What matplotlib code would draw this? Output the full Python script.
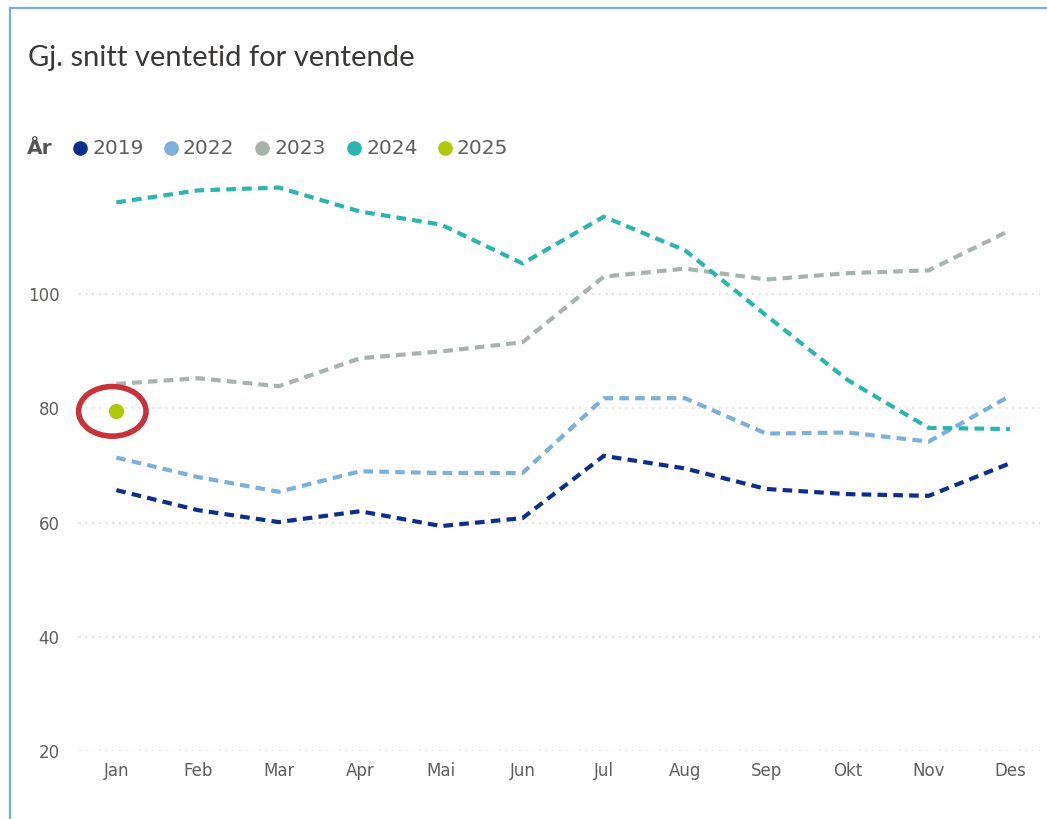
import matplotlib
matplotlib.use("Agg")
import matplotlib.pyplot as plt
from matplotlib.patches import Ellipse
from matplotlib.lines import Line2D

months = ["Jan", "Feb", "Mar", "Apr", "Mai", "Jun", "Jul", "Aug", "Sep", "Okt", "Nov", "Des"]
years = ["2019", "2022", "2023", "2024", "2025"]
colors = ["#0d2f8c", "#7bb0dc", "#a9b3ae", "#29b6b0", "#afc80a"]

v2019 = [65.7, 62.2, 60.1, 62.0, 59.4, 60.8, 71.7, 69.5, 65.9, 65.0, 64.7, 70.4]
v2022 = [71.4, 68.0, 65.4, 69.0, 68.7, 68.7, 81.8, 81.8, 75.6, 75.8, 74.2, 82.2]
v2023 = [84.3, 85.3, 83.9, 88.8, 90.0, 91.6, 103.1, 104.5, 102.6, 103.7, 104.2, 111.2]
v2024 = [116.1, 118.2, 118.7, 114.5, 112.2, 105.4, 113.6, 107.7, 96.3, 85.0, 76.6, 76.4]
v2025 = [79.5]

series = [v2019, v2022, v2023, v2024, v2025]
yticks = [20, 40, 60, 80, 100]

W, H = 1047, 819
fig = plt.figure(figsize=(W / 100, H / 100), dpi=100)

# axes placed in pixel terms
left, right, bottom, top = 79, 1040, 751, 183
ax = fig.add_axes([left / W, 1 - bottom / H, (right - left) / W, (bottom - top) / H])

x = list(range(len(months)))
for vals, c in zip(series, colors):
    xs = x[:len(vals)]
    if len(vals) > 1:
        ax.plot(xs, vals, color=c, lw=3.0, linestyle=(0, (2.3, 1.5)),
                dash_capstyle="butt", clip_on=False, zorder=3)
    else:
        ax.plot(xs, vals, "o", color=c, ms=10, clip_on=False, zorder=4)

# red highlight ring round the 2025 point
ax.add_patch(Ellipse((x[0] - 0.05, v2025[0]), 0.83, 8.7, fill=False,
                     ec="#c8323a", lw=4.0, zorder=5, clip_on=False))

ax.set_xlim(-0.46, 11.37)
ax.set_ylim(20, 119.5)
ax.set_xticks(x)
ax.set_xticklabels(months)
ax.set_yticks(yticks)
ax.tick_params(length=0, labelsize=12, colors="#605e5c", pad=8)
ax.tick_params(axis="y", pad=14)
for s in ax.spines.values():
    s.set_visible(False)
ax.grid(axis="y", color="#dadada", linestyle=(0, (1, 3)), lw=1.2)
ax.set_axisbelow(True)

# title
fig.text(28 / W, 1 - 58 / H, "Gj. snitt ventetid for ventende", fontsize=21,
         family="Lato", color="#3a3938", va="center", ha="left")

# legend
ly = 1 - 148 / H
fig.text(27 / W, ly, "År", fontsize=14.5, fontweight="bold", color="#555555",
         va="center", ha="left")
dot_x = [80, 171, 262, 354, 445]
for px, yr, c in zip(dot_x, years, colors):
    fig.add_artist(Line2D([px / W], [ly], marker="o", ms=9.5, color=c,
                          transform=fig.transFigure))
    fig.text((px + 12) / W, ly, yr, fontsize=14.5, family="DejaVu Sans",
             color="#605e5c", va="center", ha="left")

# frame of the visual
fig.add_artist(Line2D([10 / W, 10 / W], [0, 1 - 8 / H], color="#76aee3", lw=1.6,
                      transform=fig.transFigure))
fig.add_artist(Line2D([10 / W, 1], [1 - 8 / H, 1 - 8 / H], color="#76aee3", lw=1.6,
                      transform=fig.transFigure))

fig.savefig("out.png", dpi=100)
